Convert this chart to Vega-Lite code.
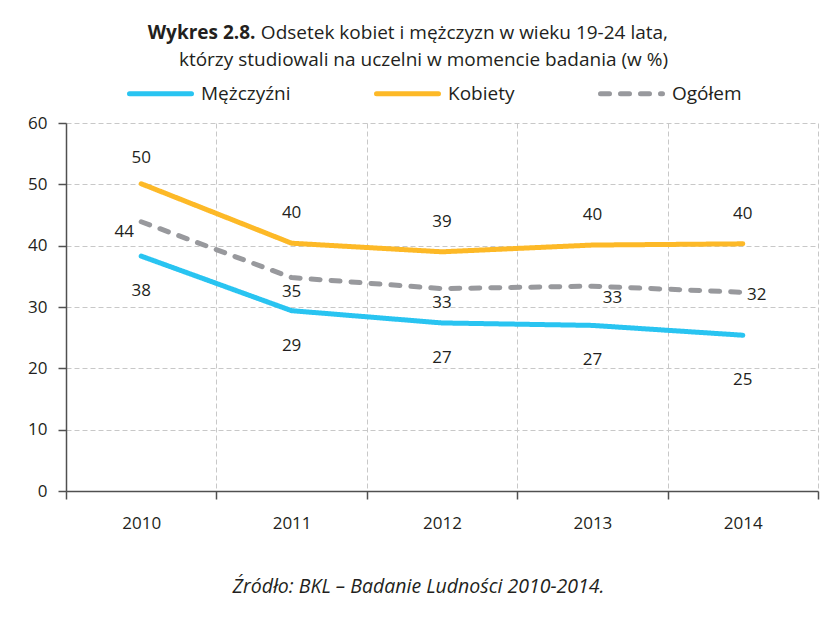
{
  "$schema": "https://vega.github.io/schema/vega-lite/v6.json",
  "width": 752,
  "height": 368,
  "autosize": {"type": "none"},
  "padding": {"left": 66, "top": 123, "right": 2, "bottom": 127},
  "background": "#ffffff",
  "title": {
    "text": ["Odsetek kobiet i mężczyzn w wieku 19-24 lata,", "którzy studiowali na uczelni w momencie badania (w %)"],
    "font": "Open Sans",
    "fontSize": 19,
    "fontWeight": "normal",
    "color": "#231F20",
    "lineHeight": 27,
    "anchor": "end",
    "align": "right",
    "frame": "group",
    "dx": -150,
    "offset": -47
  },
  "config": {
    "view": {"stroke": null},
    "font": "Open Sans",
    "text": {"font": "Open Sans", "fontSize": 17, "color": "#231F20"}
  },
  "data": {
    "values": [
      {"year": "2010", "series": "Mężczyźni", "value": 38.3},
      {"year": "2011", "series": "Mężczyźni", "value": 29.4},
      {"year": "2012", "series": "Mężczyźni", "value": 27.4},
      {"year": "2013", "series": "Mężczyźni", "value": 27.0},
      {"year": "2014", "series": "Mężczyźni", "value": 25.4},
      {"year": "2010", "series": "Kobiety", "value": 50.1},
      {"year": "2011", "series": "Kobiety", "value": 40.4},
      {"year": "2012", "series": "Kobiety", "value": 39.0},
      {"year": "2013", "series": "Kobiety", "value": 40.1},
      {"year": "2014", "series": "Kobiety", "value": 40.3},
      {"year": "2010", "series": "Ogółem", "value": 43.9},
      {"year": "2011", "series": "Ogółem", "value": 34.8},
      {"year": "2012", "series": "Ogółem", "value": 33.0},
      {"year": "2013", "series": "Ogółem", "value": 33.4},
      {"year": "2014", "series": "Ogółem", "value": 32.4}
    ]
  },
  "encoding": {
    "x": {
      "field": "year",
      "type": "ordinal",
      "scale": {"type": "band", "paddingInner": 0, "paddingOuter": 0},
      "axis": {
        "title": "Źródło: BKL – Badanie Ludności 2010-2014.",
        "titleFont": "Open Sans",
        "titleFontSize": 19.5,
        "titleFontStyle": "italic",
        "titleFontWeight": "normal",
        "titleColor": "#231F20",
        "titleBaseline": "middle",
        "titleY": 95,
        "titleX": 352,
        "labelAngle": 0,
        "labelFont": "Open Sans",
        "labelFontSize": 17,
        "labelColor": "#231F20",
        "labelPadding": 16,
        "tickBand": "extent",
        "tickSize": 8,
        "tickColor": "#505050",
        "tickWidth": 1.5,
        "domainColor": "#505050",
        "domainWidth": 1.5,
        "grid": true,
        "gridDash": [5, 3],
        "gridColor": "#C8C8C8",
        "gridWidth": 1
      }
    },
    "y": {
      "field": "value",
      "type": "quantitative",
      "scale": {"domain": [0, 60], "nice": false},
      "axis": {
        "title": "Wykres 2.8.",
        "titleAngle": 0,
        "titleFont": "Open Sans",
        "titleFontSize": 19,
        "titleFontWeight": "bold",
        "titleColor": "#231F20",
        "titleAlign": "right",
        "titleBaseline": "alphabetic",
        "titleX": 189,
        "titleY": -85,
        "values": [0, 10, 20, 30, 40, 50, 60],
        "labelFont": "Open Sans",
        "labelFontSize": 17,
        "labelColor": "#231F20",
        "labelPadding": 11,
        "tickSize": 8,
        "tickColor": "#505050",
        "tickWidth": 1.5,
        "domainColor": "#505050",
        "domainWidth": 1.5,
        "grid": true,
        "gridDash": [5, 3],
        "gridColor": "#C8C8C8",
        "gridWidth": 1
      }
    }
  },
  "layer": [
    {
      "mark": {"type": "line", "strokeWidth": 5, "strokeCap": "round", "strokeJoin": "round"},
      "encoding": {
        "color": {
          "field": "series",
          "type": "nominal",
          "scale": {"domain": ["Mężczyźni", "Kobiety", "Ogółem"], "range": ["#29C4F1", "#FDB927", "#98999D"]},
          "legend": {
            "orient": "none",
            "legendX": 61,
            "legendY": -63,
            "direction": "horizontal",
            "columns": 3,
            "columnPadding": 75,
            "title": null,
            "symbolType": "stroke",
            "symbolSize": 3844,
            "symbolStrokeWidth": 5,
            "labelFont": "Open Sans",
            "labelFontSize": 19,
            "labelColor": "#231F20",
            "labelOffset": 7,
            "encode": {"symbols": {"update": {"strokeCap": {"value": "round"}}}}
          }
        },
        "strokeDash": {
          "field": "series",
          "type": "nominal",
          "scale": {"domain": ["Mężczyźni", "Kobiety", "Ogółem"], "range": [[1, 0], [1, 0], [9, 11]]},
          "legend": {
            "orient": "none",
            "legendX": 61,
            "legendY": -63,
            "direction": "horizontal",
            "columns": 3,
            "columnPadding": 75,
            "title": null,
            "symbolType": "stroke",
            "symbolSize": 3844,
            "symbolStrokeWidth": 5,
            "labelFont": "Open Sans",
            "labelFontSize": 19,
            "labelColor": "#231F20",
            "labelOffset": 7,
            "encode": {"symbols": {"update": {"strokeCap": {"value": "round"}}}}
          }
        }
      }
    },
    {
      "transform": [{"filter": "datum.series === 'Kobiety' && datum.year !== '2010'"}],
      "mark": {"type": "text", "dy": -30},
      "encoding": {"text": {"field": "value", "type": "quantitative", "format": ".0f"}}
    },
    {
      "transform": [{"filter": "datum.series === 'Kobiety' && datum.year === '2010'"}],
      "mark": {"type": "text", "dy": -26},
      "encoding": {"text": {"field": "value", "type": "quantitative", "format": ".0f"}}
    },
    {
      "transform": [{"filter": "datum.series === 'Mężczyźni' && datum.year !== '2014'"}],
      "mark": {"type": "text", "dy": 35},
      "encoding": {"text": {"field": "value", "type": "quantitative", "format": ".0f"}}
    },
    {
      "transform": [{"filter": "datum.series === 'Mężczyźni' && datum.year === '2014'"}],
      "mark": {"type": "text", "dy": 45},
      "encoding": {"text": {"field": "value", "type": "quantitative", "format": ".0f"}}
    },
    {
      "transform": [{"filter": "datum.series === 'Ogółem' && (datum.year === '2011' || datum.year === '2012')"}],
      "mark": {"type": "text", "dy": 14},
      "encoding": {"text": {"field": "value", "type": "quantitative", "format": ".0f"}}
    },
    {
      "transform": [{"filter": "datum.series === 'Ogółem' && datum.year === '2010'"}],
      "mark": {"type": "text", "dx": -17, "dy": 10},
      "encoding": {"text": {"field": "value", "type": "quantitative", "format": ".0f"}}
    },
    {
      "transform": [{"filter": "datum.series === 'Ogółem' && datum.year === '2013'"}],
      "mark": {"type": "text", "dx": 20, "dy": 12},
      "encoding": {"text": {"field": "value", "type": "quantitative", "format": ".0f"}}
    },
    {
      "transform": [{"filter": "datum.series === 'Ogółem' && datum.year === '2014'"}],
      "mark": {"type": "text", "dx": 14, "dy": 3},
      "encoding": {"text": {"field": "value", "type": "quantitative", "format": ".0f"}}
    }
  ]
}
